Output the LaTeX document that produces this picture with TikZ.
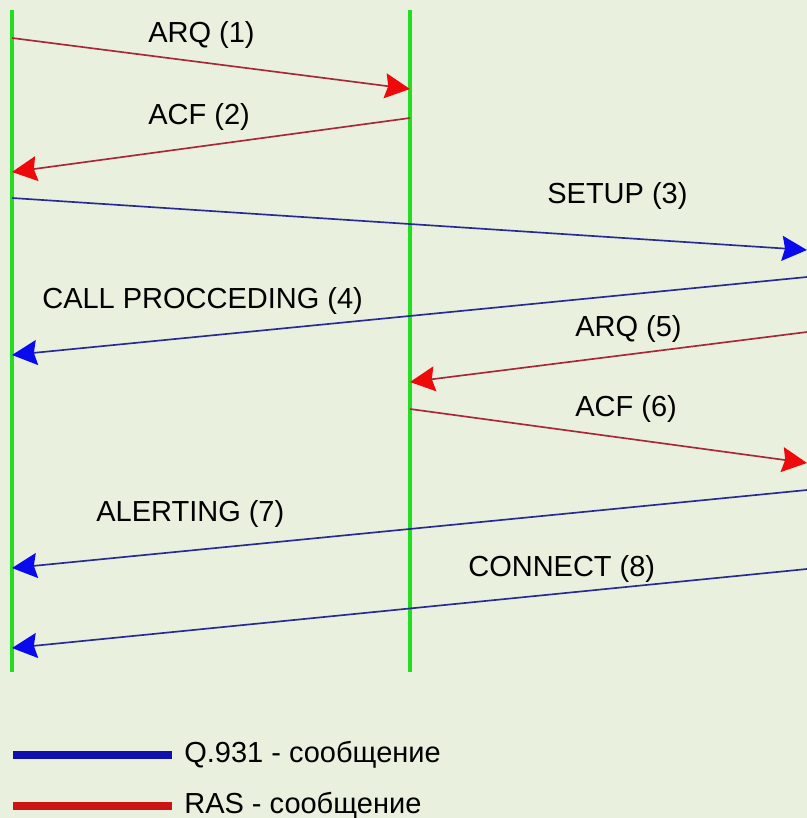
\documentclass[tikz,border=0pt]{standalone}
\usepackage{fontspec}
\setmainfont{Liberation Sans}
\usepackage{xcolor}
\usetikzlibrary{arrows.meta}

\definecolor{bgcol}{HTML}{E9F0DD}
\definecolor{lifegreen}{HTML}{22DD22}
\definecolor{rasline}{HTML}{A8283A}
\definecolor{rastip}{HTML}{EE0A0A}
\definecolor{qline}{HTML}{2A2A96}
\definecolor{qtip}{HTML}{0A0AEE}
\definecolor{legblue}{HTML}{1010B0}
\definecolor{legred}{HTML}{CC1414}

\tikzset{
    lifeline/.style={lifegreen, line width=2.3pt},
    rasmsg/.style={rasline, line width=0.95pt, -{Stealth[length=5mm, width=5mm, inset=0.6mm, color=rastip]}},
    qmsg/.style={qline, line width=0.95pt, -{Stealth[length=5mm, width=5mm, inset=0.6mm, color=qtip]}},
    msglabel/.style={anchor=base west, inner sep=0pt, font=\fontsize{16.5}{19}\selectfont},
}

\begin{document}
\begin{tikzpicture}[x=0.02cm, y=-0.02cm]
    \fill[bgcol] (0,0) rectangle (807,818);
    \useasboundingbox (0,0) rectangle (807,818);

    \coordinate (At) at (12, 10);
    \coordinate (Ab) at (12, 672);
    \coordinate (Bt) at (410, 10);
    \coordinate (Bb) at (410, 672);

    \draw[lifeline] (At) -- (Ab);
    \draw[lifeline] (Bt) -- (Bb);

    \coordinate (M1s) at (12, 38);   \coordinate (M1e) at (410, 89);
    \coordinate (M2s) at (410, 118); \coordinate (M2e) at (12, 172);
    \coordinate (M3s) at (12, 198);  \coordinate (M3e) at (807, 250);
    \coordinate (M4s) at (807, 277); \coordinate (M4e) at (12, 355);
    \coordinate (M5s) at (807, 332); \coordinate (M5e) at (410, 382);
    \coordinate (M6s) at (410, 409); \coordinate (M6e) at (807, 463);
    \coordinate (M7s) at (807, 490); \coordinate (M7e) at (12, 568);
    \coordinate (M8s) at (807, 569); \coordinate (M8e) at (12, 648);

    \draw[rasmsg] (M1s) -- (M1e);
    \draw[rasmsg] (M2s) -- (M2e);
    \draw[qmsg] (M3s) -- (M3e);
    \draw[qmsg] (M4s) -- (M4e);
    \draw[rasmsg] (M5s) -- (M5e);
    \draw[rasmsg] (M6s) -- (M6e);
    \draw[qmsg] (M7s) -- (M7e);
    \draw[qmsg] (M8s) -- (M8e);

    \node[msglabel] (L1) at (148, 42) {ARQ (1)};
    \node[msglabel] (L2) at (148, 124) {ACF (2)};
    \node[msglabel] (L3) at (547, 203) {SETUP (3)};
    \node[msglabel] (L4) at (42, 308) {CALL PROCCEDING (4)};
    \node[msglabel] (L5) at (575, 336) {ARQ (5)};
    \node[msglabel] (L6) at (575, 416) {ACF (6)};
    \node[msglabel] (L7) at (96, 521) {ALERTING (7)};
    \node[msglabel] (L8) at (468, 576) {CONNECT (8)};

    % legend
    \coordinate (Q1) at (13, 755);  \coordinate (Q2) at (172, 755);
    \coordinate (R1) at (13, 806);  \coordinate (R2) at (172, 806);
    \draw[legblue, line width=4pt] (Q1) -- (Q2);
    \draw[legred, line width=4pt] (R1) -- (R2);
    \node[msglabel] (LQ) at (184, 762) {Q.931 - сообщение};
    \node[msglabel] (LR) at (184, 813) {RAS - сообщение};

\end{tikzpicture}
\end{document}
